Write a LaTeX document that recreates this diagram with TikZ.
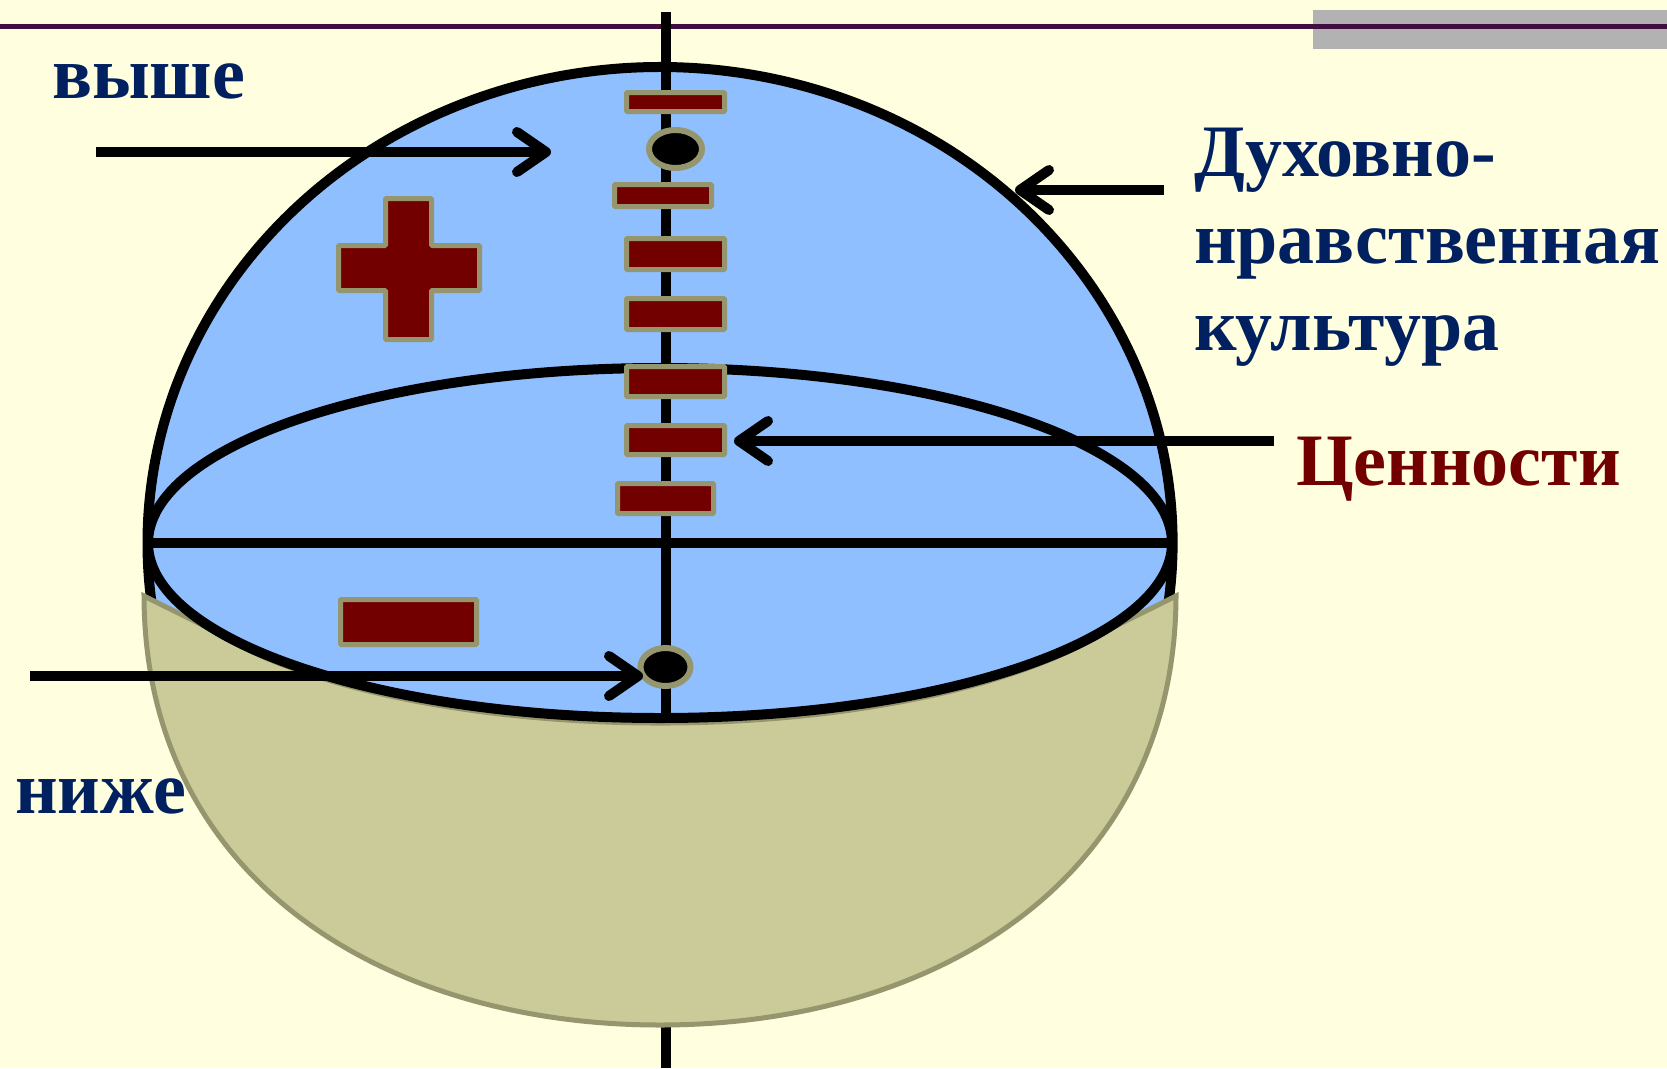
\documentclass[tikz,border=0pt]{standalone}
\usepackage{fontspec}
\setmainfont{Liberation Serif}
\usetikzlibrary{arrows.meta,shapes.geometric,calc}
\definecolor{bg}{HTML}{FFFFDF}
\definecolor{sky}{HTML}{8FBFFF}
\definecolor{khaki}{HTML}{CBCB99}
\definecolor{khakiline}{HTML}{96966E}
\definecolor{barred}{HTML}{730000}
\definecolor{navy}{HTML}{002060}
\definecolor{plum}{HTML}{400F40}
\definecolor{greybar}{HTML}{B2B2B2}
\begin{document}
\begin{tikzpicture}[x=1pt,y=-1pt,
  ink/.style={line width=10pt, draw=black},
  bar/.style={fill=barred, draw=khakiline, line width=5pt, rounded corners=1pt, inner sep=0pt},
  dot/.style={ellipse, fill=black, draw=khakiline, line width=6pt, inner sep=0pt},
  pointer/.style={line width=10pt, draw=black, -{Straight Barb[length=29pt,width=40pt,round]}},
  lbl/.style={font=\bfseries\fontsize{74}{87}\selectfont, text=navy, inner sep=0pt, anchor=base west, align=left}]
% background and header
\fill[bg] (0,0) rectangle (1667,1068);
\useasboundingbox (0,0) rectangle (1667,1068);
\fill[greybar] (1313,10) rectangle (1667,49);
\draw[plum, line width=5pt] (0,26.5) -- (1667,26.5);
% sphere
\fill[sky] (660,543) ellipse [x radius=512.5, y radius=476];
\draw[ink] (660,543) ++(12:512.5 and 476) arc [start angle=12, end angle=-192, x radius=512.5, y radius=476];
\draw[ink] (666,12) -- (666,1068);
% lower bowl
\filldraw[fill=khaki, draw=khakiline, line width=5pt]
  (144,596) -- ($(660,543)+(151.5:512 and 180)$)
  arc [start angle=151.5, end angle=28.5, x radius=512, y radius=180]
  -- (1176,596) .. controls (1175,880) and (935,1025) .. (660,1025)
  .. controls (385,1025) and (145,880) .. (144,596) -- cycle;
% equator
\draw[ink] (660,543) ellipse [x radius=512, y radius=175];
\draw[ink] (148,543) -- (1173,543);
% bars on the axis
\node[bar, minimum width=98, minimum height=19] (b1) at (675.5,102) {};
\node[dot, minimum width=53, minimum height=38] (top) at (675.5,149) {};
\node[bar, minimum width=97, minimum height=22] (b2) at (663,195.5) {};
\node[bar, minimum width=98, minimum height=31] (b3) at (675.5,254) {};
\node[bar, minimum width=98, minimum height=31] (b4) at (675.5,314) {};
\node[bar, minimum width=98, minimum height=30] (b5) at (675.5,381.5) {};
\node[bar, minimum width=98, minimum height=29] (b6) at (675.5,440) {};
\node[bar, minimum width=96, minimum height=30] (b7) at (665.5,498.5) {};
\node[dot, minimum width=50, minimum height=38] (bottom) at (665.5,667) {};
% plus and minus
\draw[bar] (385.5,198.5) -- (431.5,198.5) -- (431.5,245.5) -- (479.5,245.5) -- (479.5,290.5) -- (431.5,290.5) -- (431.5,339.5) -- (385.5,339.5) -- (385.5,290.5) -- (338.5,290.5) -- (338.5,245.5) -- (385.5,245.5) -- cycle;
\node[bar, minimum width=136, minimum height=45] (minus) at (408.5,622) {};
% labels
\node[lbl] (vyshe) at (52,98) {выше};
\node[lbl] (nizhe) at (15,813) {ниже};
\node[lbl] (culture) at (1194,350) {Духовно-\\нравственная\\культура};
\node[lbl, text=barred] (values) at (1296,485) {Ценности};
% arrows
\coordinate (a1s) at (96,152);
\coordinate (a1e) at (551,152);
\coordinate (a2s) at (1164,190);
\coordinate (a2e) at (1015,190);
\coordinate (a3s) at (1274,441);
\coordinate (a3e) at (734,441);
\coordinate (a4s) at (30,676);
\coordinate (a4e) at (643,676);
\draw[pointer] (a1s) -- (a1e);
\draw[pointer] (a2s) -- (a2e);
\draw[pointer] (a3s) -- (a3e);
\draw[pointer] (a4s) -- (a4e);
\end{tikzpicture}
\end{document}
